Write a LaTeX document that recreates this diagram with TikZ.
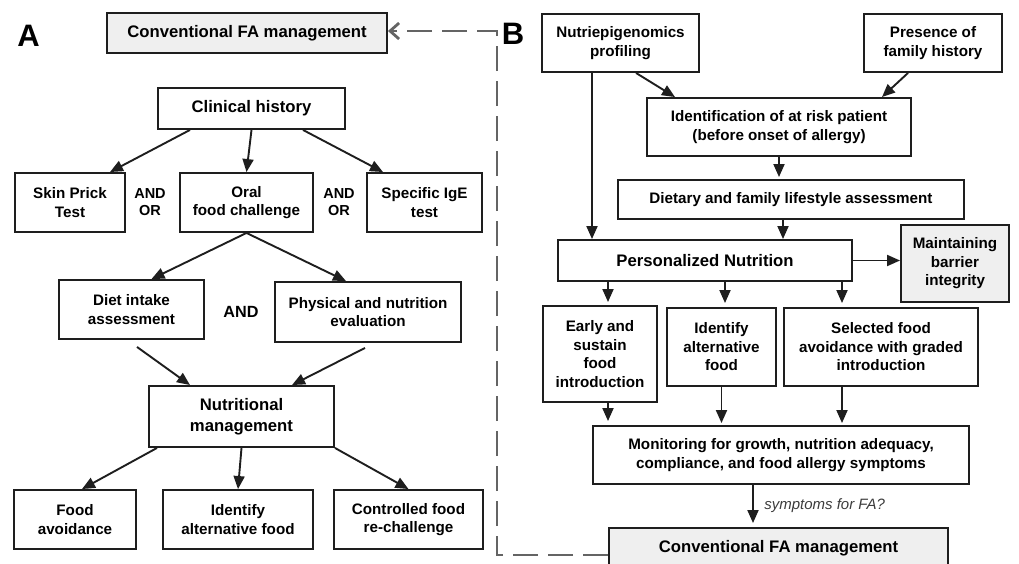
\documentclass[tikz,border=0pt]{standalone}
\usepackage{fontspec}
\setmainfont{Liberation Sans}
\usepackage{tikz}
\usetikzlibrary{arrows.meta, positioning}
\definecolor{lineColor}{RGB}{30, 30, 30}
\definecolor{boxGray}{RGB}{239, 239, 239}
\definecolor{dashGray}{RGB}{100, 100, 100}
\definecolor{noteGray}{RGB}{60, 60, 60}
\tikzset{
    flow_box/.style={
        draw=lineColor,
        line width=1.9pt,
        fill=white,
        align=center,
        inner sep=0pt,
        text=black,
        font=\bfseries\fontsize{15.2pt}{18.5pt}\selectfont
    },
    big_box/.style={
        flow_box,
        font=\bfseries\fontsize{16.7pt}{20.5pt}\selectfont
    },
    gray_box/.style={
        fill=boxGray
    },
    box_wh/.style 2 args={
        minimum width=#1,
        minimum height=#2
    },
    join_word/.style={
        align=center,
        font=\bfseries\fontsize{14.5pt}{17.5pt}\selectfont
    },
    panel_tag/.style={
        font=\bfseries\fontsize{31pt}{31pt}\selectfont
    },
    note_text/.style={
        text=noteGray,
        font=\itshape\fontsize{15pt}{18pt}\selectfont
    },
    flow_edge/.style={
        ->,
        >={Triangle[length=13pt, width=11pt]},
        line width=1.9pt,
        color=lineColor
    },
    back_edge/.style={
        ->,
        >={Straight Barb[length=9pt, width=16pt]},
        line width=2.8pt,
        draw=dashGray,
        dash pattern=on 25pt off 10pt
    }
}

\begin{document}
\begin{tikzpicture}[x=1pt, y=-1pt]
    \useasboundingbox (0,0) rectangle (1019,564);

    % panel A
    \node[panel_tag] (tag_a) at (28.5,36) {A};
    \node[big_box, gray_box, box_wh={280pt}{40pt}] (conv_a) at (247,33) {Conventional FA management};
    \node[big_box, box_wh={187pt}{41pt}] (clin) at (251.5,108.5) {Clinical history};
    \node[flow_box, box_wh={110pt}{59pt}] (skin) at (70,202.5) {Skin Prick\\Test};
    \node[join_word] (andor_l) at (150,202) {AND\\OR};
    \node[flow_box, box_wh={133pt}{59pt}] (oral) at (246.5,202.5) {Oral\\food challenge};
    \node[join_word] (andor_r) at (339,202) {AND\\OR};
    \node[flow_box, box_wh={115pt}{59pt}] (ige) at (424.5,202.5) {Specific IgE\\test};
    \node[flow_box, box_wh={145pt}{59pt}] (diet) at (131.5,309.5) {Diet intake\\assessment};
    \node[join_word, font=\bfseries\fontsize{16.2pt}{19pt}\selectfont] (and_mid) at (241,312) {AND};
    \node[flow_box, box_wh={186pt}{60pt}] (phys) at (368,312) {Physical and nutrition\\evaluation};
    \node[big_box, box_wh={185pt}{61pt}] (nutr) at (241.5,416.5) {Nutritional\\management};
    \node[flow_box, box_wh={122pt}{59pt}] (avoid) at (75,519.5) {Food\\avoidance};
    \node[flow_box, box_wh={150pt}{59pt}] (alt_a) at (238,519.5) {Identify\\alternative food};
    \node[flow_box, box_wh={149pt}{59pt}] (rechal) at (408.5,519.5) {Controlled food\\re-challenge};

    % panel B
    \node[panel_tag] (tag_b) at (513,34) {B};
    \node[flow_box, box_wh={157pt}{58pt}] (epi) at (620.5,43) {Nutriepigenomics\\profiling};
    \node[flow_box, box_wh={138pt}{58pt}] (fam) at (933,43) {Presence of\\family history};
    \node[flow_box, box_wh={264pt}{58pt}] (risk) at (779,127) {Identification of at risk patient\\(before onset of allergy)};
    \node[flow_box, box_wh={346pt}{39pt}] (life) at (791,199.5) {Dietary and family lifestyle assessment};
    \node[big_box, box_wh={294pt}{41pt}] (pers) at (705,260.5) {Personalized Nutrition};
    \node[flow_box, gray_box, box_wh={108pt}{77pt}] (barrier) at (955,263.5) {Maintaining\\barrier\\integrity};
    \node[flow_box, box_wh={114pt}{96pt}] (early) at (600,354) {Early and\\sustain\\food\\introduction};
    \node[flow_box, box_wh={109pt}{78pt}] (alt_b) at (721.5,347) {Identify\\alternative\\food};
    \node[flow_box, box_wh={194pt}{78pt}] (graded) at (881,347) {Selected food\\avoidance with graded\\introduction};
    \node[flow_box, box_wh={376pt}{58pt}] (monit) at (781,455) {Monitoring for growth, nutrition adequacy,\\compliance, and food allergy symptoms};
    \node[big_box, gray_box, box_wh={339pt}{40pt}] (conv_b) at (778.5,548) {Conventional FA management};
    \coordinate (turn_top) at (497,31);

    \path[flow_edge]
        ([xshift=-61.5pt]clin.south) edge ([xshift=40pt]skin.north)
        (clin.south) edge (oral.north)
        ([xshift=51.5pt]clin.south) edge ([xshift=-41.5pt]ige.north)
        (oral.south) edge ([xshift=20pt]diet.north)
        (oral.south) edge ([xshift=-22pt]phys.north)
        ([xshift=5.5pt, yshift=-7pt]diet.south) edge ([xshift=-51.5pt]nutr.north)
        ([xshift=-3pt, yshift=-5pt]phys.south) edge ([xshift=50.5pt]nutr.north)
        ([xshift=-84.5pt]nutr.south) edge ([xshift=7pt]avoid.north)
        (nutr.south) edge (alt_a.north)
        (nutr.south east) edge (rechal.north);

    \path[flow_edge]
        ([xshift=15.5pt]epi.south) edge ([xshift=-104pt]risk.north)
        ([xshift=-25pt]fam.south) edge ([xshift=103pt]risk.north)
        (risk.south) edge[shorten >=2pt] (risk.south |- life.north)
        ([xshift=-8pt]life.south) edge ([xshift=78pt]pers.north)
        ([xshift=-28.5pt]epi.south) edge ([xshift=-113pt]pers.north)
        (pers.east) edge (pers.east -| barrier.west)
        ([xshift=-97pt]pers.south) edge[shorten >=3pt] ([xshift=8pt]early.north)
        ([xshift=20pt]pers.south) edge[shorten >=4pt] ([xshift=3.5pt]alt_b.north)
        ([xshift=137pt]pers.south) edge[shorten >=4pt] ([xshift=-39pt]graded.north)
        ([xshift=8pt]early.south) edge[shorten >=4pt] ([xshift=-173pt]monit.north)
        (alt_b.south) edge[shorten >=2pt] (alt_b.south |- monit.north)
        ([xshift=-39pt]graded.south) edge[shorten >=2pt] ([xshift=61pt]monit.north)
        ([xshift=-28pt]monit.south) edge[shorten >=4pt]
            node[note_text, right=7pt] (fa_query) {symptoms for FA?}
            ([xshift=-25.5pt]conv_b.north);

    % loop back to panel A
    \draw[back_edge] ([yshift=-7pt]conv_b.west) -| (turn_top) -- (turn_top -| conv_a.east);
\end{tikzpicture}
\end{document}
